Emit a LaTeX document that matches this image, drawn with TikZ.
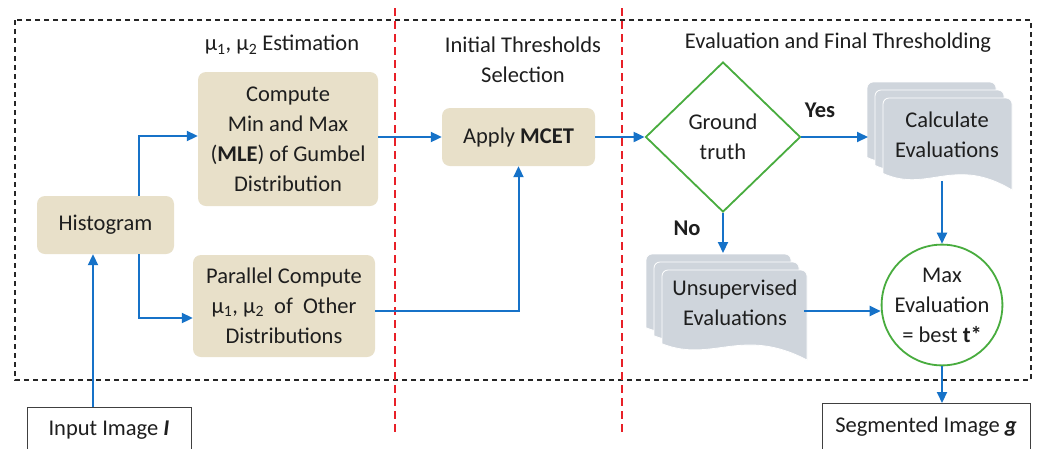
\documentclass[tikz,border=0pt]{standalone}
\usepackage{fontspec}
\setmainfont{Carlito}
\usetikzlibrary{arrows.meta,shapes.geometric}
\definecolor{beige}{RGB}{232,224,201}
\definecolor{docgray}{RGB}{207,213,220}
\definecolor{arrowblue}{RGB}{22,114,200}
\definecolor{dgreen}{RGB}{72,172,62}
\definecolor{rred}{RGB}{232,32,40}
\definecolor{txtc}{RGB}{30,30,30}
\newcommand\mydoc[4]{%
  \path[fill=docgray, draw=white, line width=0.8pt, rounded corners=6pt]
    (#1,#2+0.82*#4) -- (#1,#2) -- (#1+#3,#2) [sharp corners] -- (#1+#3,#2+#4)
    .. controls (#1+0.55*#3,#2+0.62*#4) and (#1+0.35*#3,#2+1.04*#4) .. (#1,#2+0.82*#4) -- cycle;}
\newcommand\mymultidoc[4]{%
  \mydoc{#1-16}{#2-16}{#3}{#4}\mydoc{#1-8}{#2-8}{#3}{#4}\mydoc{#1}{#2}{#3}{#4}}
\begin{document}
\begin{tikzpicture}[x=1pt,y=-1pt,
  txt/.style={font=\fontsize{22.5}{30}\selectfont, align=center, text=txtc, inner sep=0pt},
  procbox/.style={txt, fill=beige, rounded corners=8pt},
  outbox/.style={draw=black!75, line width=0.9pt, fill=white},
  flow/.style={draw=arrowblue, line width=2pt, -{Triangle[length=11pt,width=10pt]}},
  frame/.style={draw=black!85, line width=1.1pt, dash pattern=on 5pt off 4pt},
  divider/.style={draw=rred, line width=1.2pt, dash pattern=on 8pt off 5pt},
  greenline/.style={draw=dgreen, line width=1.8pt, fill=white}
]
\useasboundingbox (0,0) rectangle (1038,448);
\clip (0,0) rectangle (1038,448);
\fill[white] (0,0) rectangle (1038,448);

% frame and dividers
\draw[frame] (15,20) rectangle (1031,380);
\draw[divider] (395,8) -- (395,434);
\draw[divider] (622,8) -- (622,434);

% section titles
\node[txt] (t1) at (282,45) {μ\textsubscript{1}, μ\textsubscript{2} Estimation};
\node[txt] (t2) at (523,60) {Initial Thresholds\\Selection};
\node[txt] (t3) at (838,43) {Evaluation and Final Thresholding};

% process boxes
\node[procbox, minimum width=137pt, minimum height=58pt] (hist) at (105.5,225) {Histogram};
\node[procbox, minimum width=180pt, minimum height=134pt] (comp) at (288,139)
  {Compute\\Min and Max\\(\textbf{MLE}) of Gumbel\\Distribution};
\node[procbox, minimum width=182pt, minimum height=102pt] (par) at (284,306)
  {Parallel Compute\\μ\textsubscript{1}, μ\textsubscript{2}~ of~ Other\\Distributions};
\node[procbox, minimum width=153pt, minimum height=58pt] (mcet) at (518.5,137) {Apply \textbf{MCET}};

% decision
\node[txt, diamond, greenline, minimum width=155pt, minimum height=150pt] (gt) at (723,137) {Ground\\truth};

% multi-documents
\mymultidoc{883}{98}{129}{92}
\node[txt] (calc) at (947,135) {Calculate\\Evaluations};
\coordinate (calcin) at (868,137);
\coordinate (calcout) at (942,181);

\mymultidoc{662}{270}{145}{90}
\node[txt] (unsup) at (735,303) {Unsupervised\\Evaluations};
\coordinate (unsin) at (723,253);
\coordinate (unsout) at (804,311);

% circle
\node[txt, circle, greenline, minimum size=114pt] (best) at (942,305) {Max\\Evaluation\\= best \textbf{t*}};

% input / output boxes
\node[outbox, minimum width=164pt, minimum height=70pt, anchor=north] (input) at (109,407) {};
\node[txt] (inputtxt) at (109,430) {Input Image \textbf{\textit{I}}};
\node[outbox, minimum width=208pt, minimum height=70pt, anchor=north] (seg) at (926,403) {};
\node[txt] (segtxt) at (926,427) {Segmented Image \textbf{\textit{g}}};

% labels
\node[txt, font=\fontsize{22.5}{30}\selectfont\bfseries] (yes) at (820,110) {Yes};
\node[txt, font=\fontsize{22.5}{30}\selectfont\bfseries] (no) at (687,228) {No};

% connectors
\draw[flow] ([xshift=-16pt]input.north) -- ([xshift=-12.5pt]hist.south);
\draw[flow] ([xshift=33.5pt]hist.north) |- ([yshift=3pt]comp.west);
\draw[flow] ([xshift=33.5pt]hist.south) |- ([yshift=-12pt]par.west);
\draw[flow] ([yshift=2pt]comp.east) -- ([yshift=2pt]comp.east -| mcet.west);
\draw[flow] ([yshift=-5pt]par.east) -| (mcet.south);
\draw[flow] (mcet.east) -- (gt.west);
\draw[flow] (gt.east) -- (calcin);
\draw[flow] (gt.south) -- (unsin);
\draw[flow] (calcout) -- (best.north);
\draw[flow] (unsout) -- (unsout -| best.west);
\draw[flow] (best.south) -- (seg.north -| best.south);
\end{tikzpicture}
\end{document}
